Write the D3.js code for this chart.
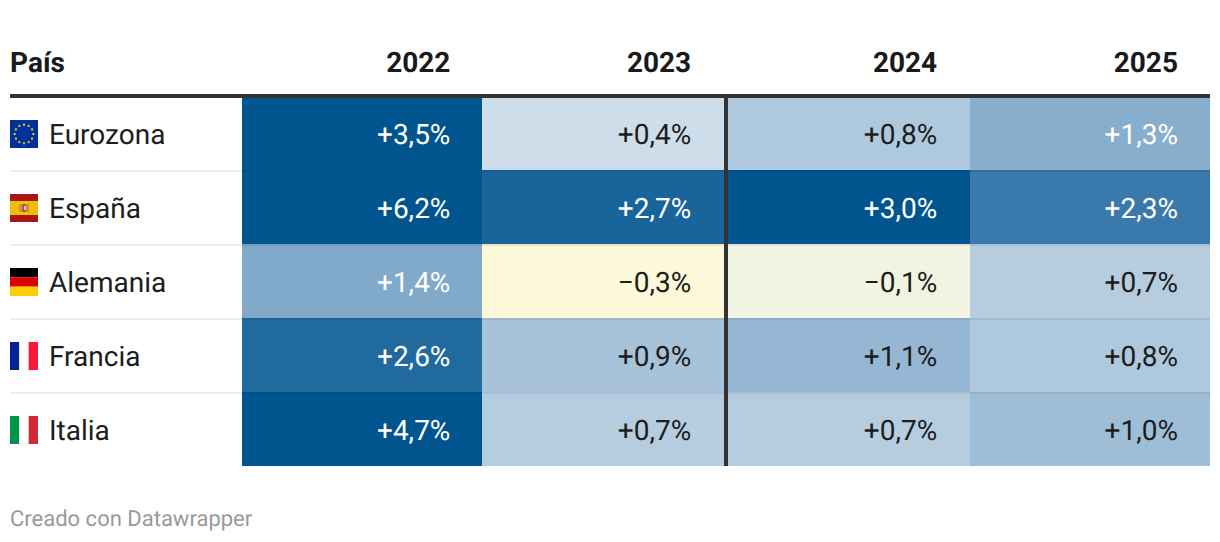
<!DOCTYPE html>
<html><head><meta charset="utf-8">
<script src="https://cdnjs.cloudflare.com/ajax/libs/d3/7.8.5/d3.min.js"></script>
<style>html,body{margin:0;padding:0;background:#fff}svg{display:block}text{font-family:Roboto,sans-serif;text-rendering:geometricPrecision}</style>
</head><body><div id="c"></div>
<script>
const countries=["Eurozona","España","Alemania","Francia","Italia"];
const flags=["eu","es","de","fr","it"];
const years=["2022","2023","2024","2025"];
const v2022=[3.5,6.2,1.4,2.6,4.7];
const v2023=[0.4,2.7,-0.3,0.9,0.7];
const v2024=[0.8,3.0,-0.1,1.1,0.7];
const v2025=[1.3,2.3,0.7,0.8,1.0];
const series=[v2022,v2023,v2024,v2025];
const colorStops=[-0.3,-0.1,0.4,0.7,0.8,0.9,1.0,1.1,1.4,2.3,3.0];
const colorValues=["#fcf8d8","#f1f4e1","#cddde9","#b6cde0","#aec8dd","#a6c3da","#9ebdd7","#95b7d3","#80a9ca","#3a79ab","#00558f"];
const W=1220,H=542;
const svg=d3.select("#c").append("svg").attr("width",W).attr("height",H);
const color=d3.scaleLinear().domain(colorStops).range(colorValues).clamp(true);
const y=d3.scaleBand().domain(countries).range([96,466]);
const xLeft=d3.scaleOrdinal().domain(years).range([242,482,728,970]);
const xRight=d3.scaleOrdinal().domain(years).range([482,724,970,1210]);
const xText=d3.scaleOrdinal().domain(years).range([450.4,691.2,937.2,1178]);
const fmt=v=>(v<0?"\u2212":"+")+Math.abs(v).toFixed(1).replace(".",",")+"%";
const cells=[];
years.forEach((yr,j)=>countries.forEach((c,i)=>cells.push({yr,c,v:series[j][i]})));
svg.selectAll("rect.cell").data(cells).join("rect").attr("class","cell")
 .attr("x",d=>xLeft(d.yr)).attr("y",d=>y(d.c))
 .attr("width",d=>xRight(d.yr)-xLeft(d.yr)+(d.yr==="2023"?4:0)).attr("height",y.bandwidth())
 .attr("fill",d=>color(d.v));
svg.selectAll("rect.rule").data(countries.slice(1)).join("rect").attr("class","rule")
 .attr("x",10).attr("width",1200).attr("y",d=>y(d)).attr("height",2).attr("fill","rgba(0,0,0,0.068)");
svg.append("rect").attr("x",10).attr("y",94).attr("width",1200).attr("height",4).attr("fill","#333");
svg.append("rect").attr("x",724).attr("y",94).attr("width",4).attr("height",372).attr("fill","#333");
const cy=c=>y(c)+38;
const fs=28;
svg.append("text").attr("x",10).attr("y",72).attr("font-size",fs).attr("font-weight",700).attr("fill","#1a1a1a").text("País");
svg.selectAll("text.yr").data(years).join("text").attr("class","yr")
 .attr("x",d=>xText(d)).attr("y",72).attr("text-anchor","end").attr("font-size",fs).attr("font-weight",700).attr("fill","#1a1a1a").text(d=>d);
svg.selectAll("text.lab").data(countries).join("text").attr("class","lab")
 .attr("x",49).attr("y",d=>cy(d)+9.5).attr("font-size",fs).attr("fill","#1d1d1d").text(d=>d);
svg.selectAll("text.val").data(cells).join("text").attr("class","val")
 .attr("x",d=>xText(d.yr)).attr("y",d=>cy(d.c)+9.5).attr("text-anchor","end").attr("font-size",fs)
 .attr("fill",d=>d.v>=1.3?"#fff":"#1d1d1d").text(d=>fmt(d.v));
const S=28;
function stripes(g,dir,cols){const sc=d3.scaleBand().domain(d3.range(cols.length)).range([0,S]);
 cols.forEach((c,i)=>{const r=g.append("rect").attr("fill",c);
  if(dir==="h")r.attr("x",sc(i)).attr("y",0).attr("width",sc.bandwidth()).attr("height",S);
  else r.attr("x",0).attr("y",sc(i)).attr("width",S).attr("height",sc.bandwidth());});}
countries.forEach((c,i)=>{
 const g=svg.append("g").attr("transform",`translate(10,${cy(c)-14})`);
 const f=flags[i];
 if(f==="eu"){g.append("rect").attr("width",S).attr("height",S).attr("fill","#003399");
  g.selectAll("rect.s").data(d3.range(12)).join("rect").attr("class","s").attr("width",2).attr("height",2).attr("fill","#e8c520")
   .attr("x",d=>14+9.3*Math.sin(d*Math.PI/6)-1).attr("y",d=>14-9.3*Math.cos(d*Math.PI/6)-1);}
 if(f==="es"){g.append("rect").attr("width",S).attr("height",S).attr("fill","#aa151b");
  g.append("rect").attr("y",7).attr("width",S).attr("height",14).attr("fill","#f1bf00");
  g.append("rect").attr("x",9).attr("y",10).attr("width",3).attr("height",8).attr("fill","#c98a4a").attr("opacity",.8);
  g.append("rect").attr("x",16).attr("y",10).attr("width",3).attr("height",8).attr("fill","#b8894f").attr("opacity",.8);
  g.append("rect").attr("x",12).attr("y",10).attr("width",4).attr("height",8).attr("rx",1).attr("fill","#b5523e");
  g.append("rect").attr("x",14).attr("y",12).attr("width",2).attr("height",4).attr("fill","#e3b8c0");}
 if(f==="de")stripes(g,"v",["#000000","#dd0000","#ffce00"]);
 if(f==="fr")stripes(g,"h",["#002395","#ffffff","#f7193a"]);
 if(f==="it")stripes(g,"h",["#009246","#ffffff","#ce2b37"]);
});
svg.append("text").attr("x",10).attr("y",526).attr("font-size",22).attr("fill","#999").text("Creado con Datawrapper");
</script></body></html>
